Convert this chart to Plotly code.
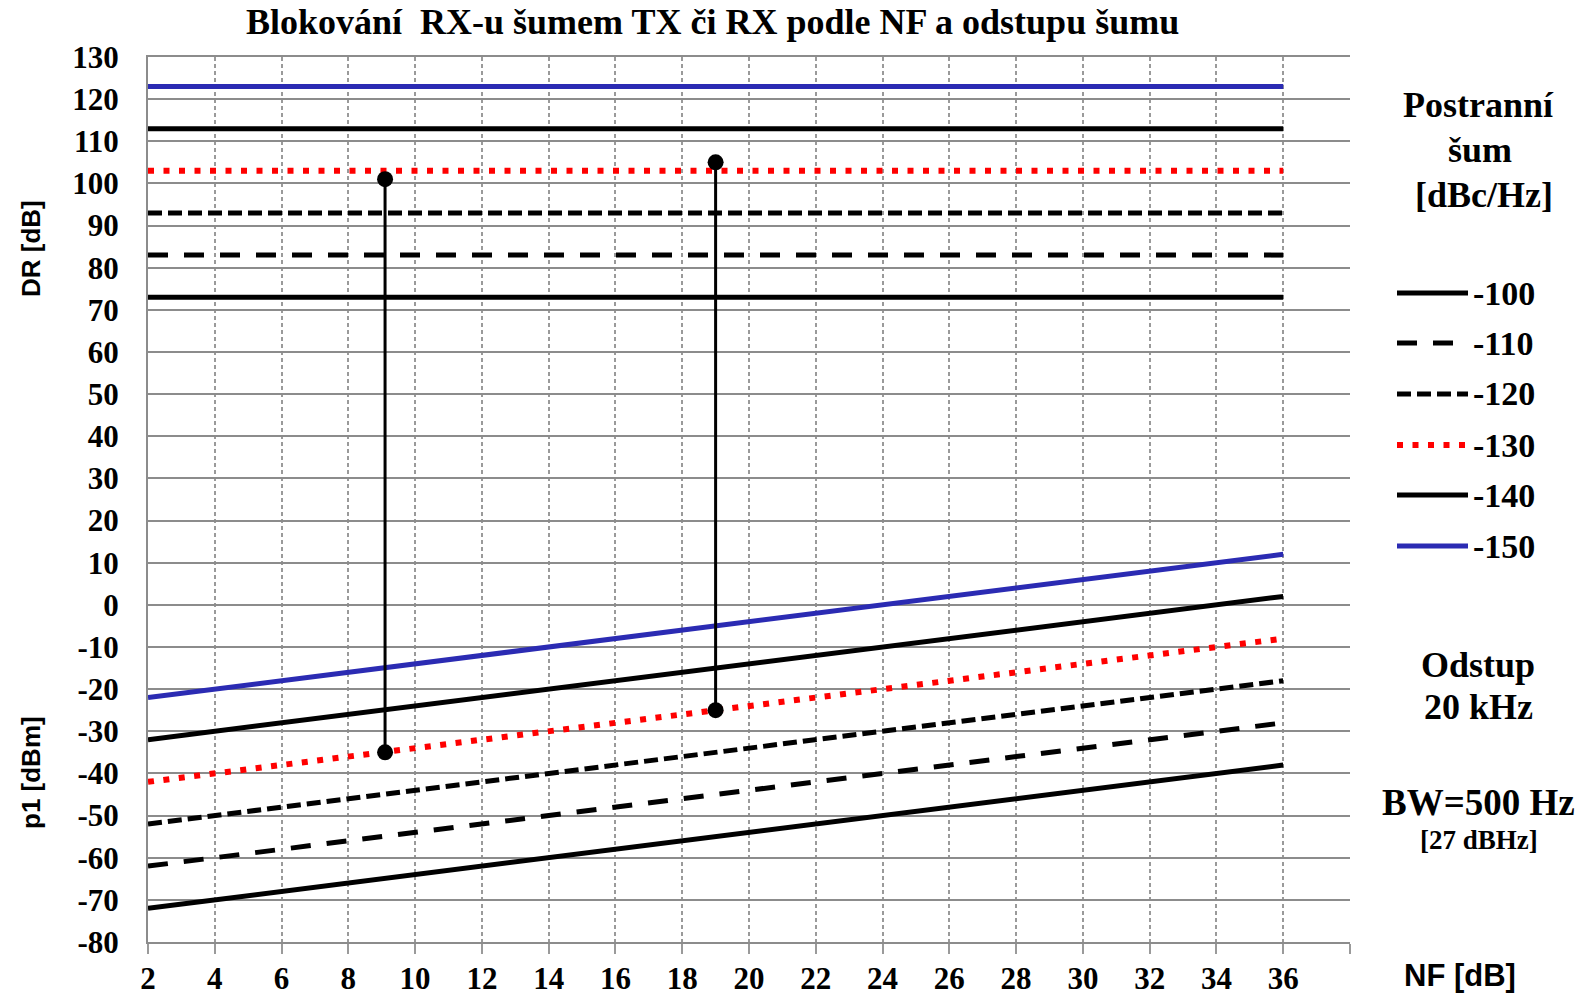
import plotly.graph_objects as go

# ---- data ----
nf = [2, 4, 6, 8, 10, 12, 14, 16, 18, 20, 22, 24, 26, 28, 30, 32, 34, 36]
sideband = ["-100", "-110", "-120", "-130", "-140", "-150"]
p1_m100 = [-72, -70, -68, -66, -64, -62, -60, -58, -56, -54, -52, -50, -48, -46, -44, -42, -40, -38]
p1_m110 = [-62, -60, -58, -56, -54, -52, -50, -48, -46, -44, -42, -40, -38, -36, -34, -32, -30, -28]
p1_m120 = [-52, -50, -48, -46, -44, -42, -40, -38, -36, -34, -32, -30, -28, -26, -24, -22, -20, -18]
p1_m130 = [-42, -40, -38, -36, -34, -32, -30, -28, -26, -24, -22, -20, -18, -16, -14, -12, -10, -8]
p1_m140 = [-32, -30, -28, -26, -24, -22, -20, -18, -16, -14, -12, -10, -8, -6, -4, -2, 0, 2]
p1_m150 = [-22, -20, -18, -16, -14, -12, -10, -8, -6, -4, -2, 0, 2, 4, 6, 8, 10, 12]
dr_nf = [2, 36]
dr_values = [73, 83, 93, 103, 113, 123]
mark_nf = [9.1, 19]
mark_top = [101, 105]
mark_bottom = [-35, -25]
y_ticks = list(range(-80, 131, 10))
x_ticks = list(range(2, 39, 2))

p1_series = [p1_m100, p1_m110, p1_m120, p1_m130, p1_m140, p1_m150]

# ---- styles ----
BLUE = "#2B2BB3"
styles = [
    dict(color="black", width=5, dash="solid"),
    dict(color="black", width=5, dash="20px,16px"),
    dict(color="black", width=5, dash="14px,6px"),
    dict(color="#FF0000", width=6, dash="6px,9.5px"),
    dict(color="black", width=5, dash="solid"),
    dict(color=BLUE, width=5, dash="solid"),
]
SERIF = "Liberation Serif"
SANS = "Liberation Sans"

fig = go.Figure()

for name, dr, p1, st in zip(sideband, dr_values, p1_series, styles):
    fig.add_trace(go.Scatter(x=dr_nf, y=[dr] * len(dr_nf), mode="lines", line=st,
                             name=name, showlegend=False, hoverinfo="skip"))
    fig.add_trace(go.Scatter(x=nf, y=p1, mode="lines", line=st,
                             name=name, showlegend=False, hoverinfo="skip"))

for xm, yt, yb in zip(mark_nf, mark_top, mark_bottom):
    fig.add_trace(go.Scatter(x=[xm, xm], y=[yt, yb], mode="lines+markers",
                             line=dict(color="black", width=3),
                             marker=dict(color="black", size=16),
                             showlegend=False, hoverinfo="skip"))

# plot area in pixels
L, R, T, B = 148, 1350, 57, 942
W, H = 1585, 996


def px(x):
    return (x - L) / (R - L)


def py(y):
    return (B - y) / (B - T)


fig.update_layout(
    width=W, height=H,
    margin=dict(l=L, r=W - R, t=T, b=H - B, autoexpand=False),
    plot_bgcolor="white", paper_bgcolor="white",
    showlegend=False,
    xaxis=dict(range=[2, 38], tickvals=x_ticks, automargin=False,
               ticktext=[str(v) if v <= 36 else "" for v in x_ticks],
               showgrid=True, gridcolor="#9A9A9A", gridwidth=1.5, griddash="4px,3px",
               ticks="outside", ticklen=10, tickcolor="#9A9A9A", tickwidth=1.5,
               showline=True, mirror=True, linecolor="#8C8C8C", linewidth=2,
               zeroline=False, ticklabelstandoff=-2,
               tickfont=dict(family=SERIF, size=31, color="black", weight="bold")),
    yaxis=dict(range=[-80, 130], tickvals=y_ticks, automargin=False,
               ticktext=[str(v) for v in y_ticks],
               showgrid=True, gridcolor="#8C8C8C", gridwidth=2,
               showline=True, linecolor="#8C8C8C", linewidth=2,
               zeroline=False, ticks="", ticklabelstandoff=21,
               tickfont=dict(family=SERIF, size=31, color="black", weight="bold")),
)

ann = []


def text(x, y, t, size=32, family=SERIF, xanchor="center", textangle=0):
    ann.append(dict(x=px(x), y=py(y), xref="paper", yref="paper", text=t, showarrow=False,
                    xanchor=xanchor, yanchor="middle", textangle=textangle,
                    font=dict(family=family, size=size, color="black", weight="bold")))


text(712, 22, "Blokování  RX-u šumem TX či RX podle NF a odstupu šumu", size=36)
text(1478, 105, "Postranní", size=36)
text(1480, 150, "šum", size=36)
text(1484, 195, "[dBc/Hz]", size=36)
text(1478, 665, "Odstup", size=36)
text(1478, 707, "20 kHz", size=36)
text(1479, 802, "BW=500 Hz", size=37)
text(1479, 840, "[27 dBHz]", size=27)
text(1460, 975, "NF [dB]", size=31, family=SANS)
text(31, 249, "DR [dB]", size=26, family=SANS, textangle=-90)
text(31, 773, "p1 [dBm]", size=26, family=SANS, textangle=-90)

leg_y = [293, 343, 394, 445, 495, 546]
shapes = []
for name, st, yy in zip(sideband, styles, leg_y):
    shapes.append(dict(type="line", xref="paper", yref="paper",
                       x0=px(1397), x1=px(1468), y0=py(yy), y1=py(yy),
                       line=dict(color=st["color"], width=st["width"], dash=st["dash"])))
    text(1471, yy, name, size=34, xanchor="left")

fig.update_layout(annotations=ann, shapes=shapes)
fig.write_html("out.html", config={"displayModeBar": False},
               post_script="document.body.style.margin='0';document.body.style.overflow='hidden';")
